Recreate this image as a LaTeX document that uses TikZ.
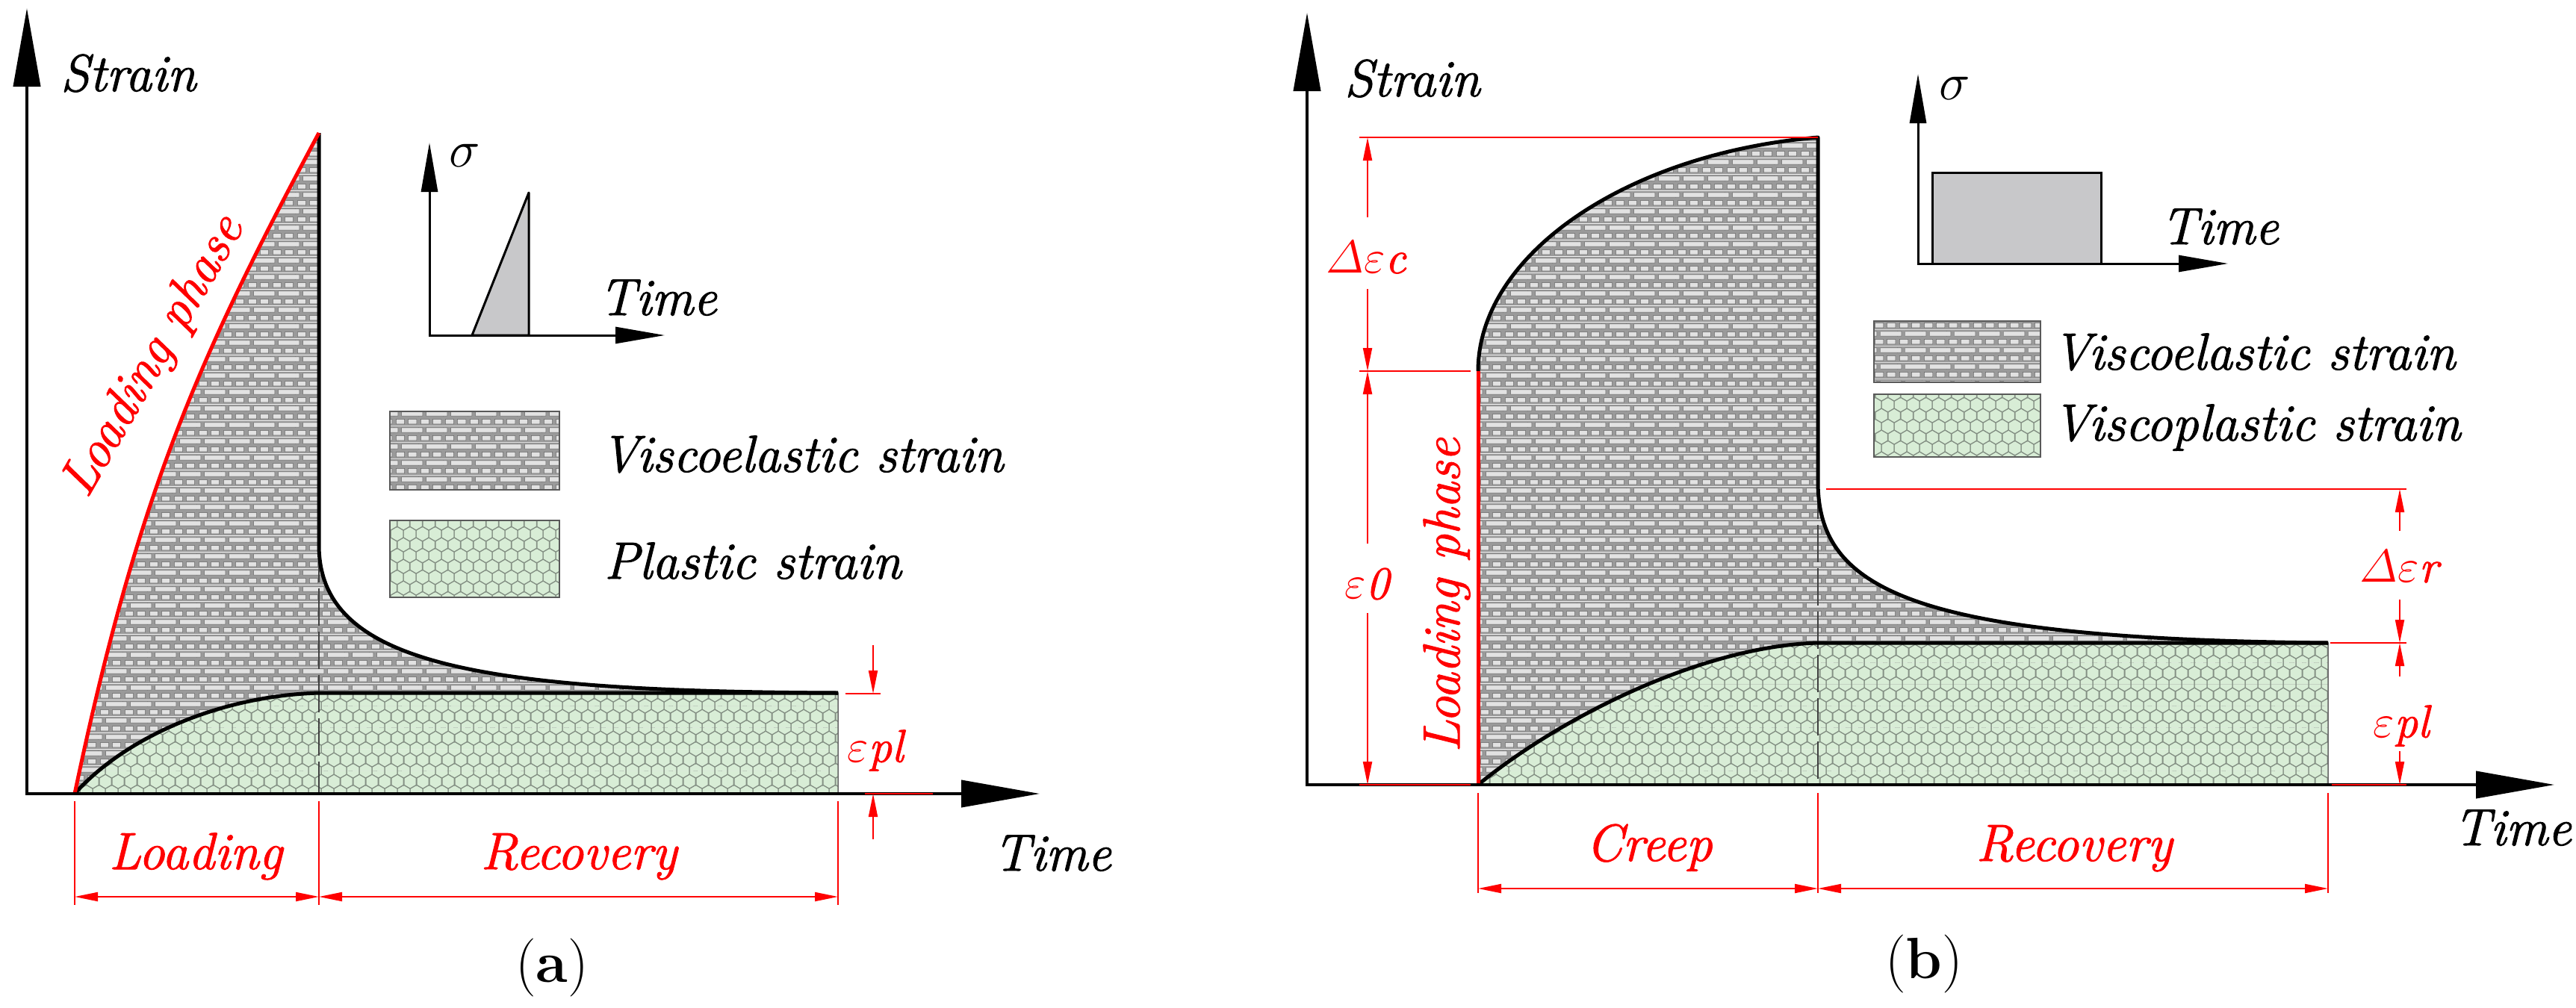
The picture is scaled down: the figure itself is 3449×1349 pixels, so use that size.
\RequirePackage{fix-cm}
\documentclass[tikz,border=0pt]{standalone}
\usepackage{amsmath}
\usepackage{fontspec}
\setmainfont{Latin Modern Roman}[ItalicFeatures={FakeBold=1.5}]
\usetikzlibrary{arrows.meta,patterns.meta}
\definecolor{mortar}{HTML}{9A9A9A}
\definecolor{brick}{HTML}{E2E2E2}
\definecolor{brickedge}{HTML}{646464}
\definecolor{hexbg}{HTML}{D8EDD6}
\definecolor{hexedge}{HTML}{849084}
\definecolor{boxgrey}{HTML}{C8C8CA}
\newcommand\lblfont{\fontsize{70pt}{80pt}\selectfont\itshape}
\newcommand\lpfont{\fontsize{70pt}{80pt}\selectfont\itshape}
\newcommand\epsfont{\fontsize{62pt}{70pt}\selectfont\itshape}
\newcommand\capfont{\fontsize{78pt}{90pt}\selectfont}
\newcommand\eps{\ensuremath{\varepsilon}}
\tikzdeclarepattern{
  name=bricks, type=colored,
  bottom left={(0pt,0pt)}, top right={(33pt,21.6pt)},
  tile size={(33pt,21.6pt)},
  code={
    \fill[mortar] (0pt,0pt) rectangle (33pt,21.6pt);
    \filldraw[fill=brick, draw=brickedge, line width=0.5pt]
      (2.4pt,2.2pt) rectangle (14.1pt,8.6pt)
      (18.9pt,2.2pt) rectangle (30.6pt,8.6pt)
      (10pt,13pt) rectangle (38pt,19.4pt)
      (-23pt,13pt) rectangle (5pt,19.4pt);
  }
}
\tikzdeclarepattern{
  name=honey, type=colored,
  bottom left={(0pt,0pt)}, top right={(16.63pt,28.8pt)},
  tile size={(16.63pt,28.8pt)},
  code={
    \fill[hexbg] (0pt,0pt) rectangle (16.63pt,28.8pt);
    \foreach \cx/\cy in {0/0,16.63/0,8.315/14.4,0/28.8,16.63/28.8}
      \draw[hexedge, line width=1.1pt, shift={(\cx pt,\cy pt)}]
        (90:9.6pt) -- (150:9.6pt) -- (210:9.6pt) -- (270:9.6pt) -- (330:9.6pt) -- (30:9.6pt) -- cycle;
  }
}
\tikzset{
 axis/.style={line width=4pt, -{Triangle[length=105pt,width=36pt]}},
 inaxis/.style={line width=3pt, -{Triangle[length=66pt,width=22pt]}},
 curve/.style={line width=5pt, line join=round},
 loadln/.style={red, line width=5pt},
 dimthin/.style={red, line width=2pt},
 dimarr/.style={dimthin, -{Triangle[length=31pt,width=12pt]}},
 dimboth/.style={dimthin, {Triangle[length=31pt,width=12pt]}-{Triangle[length=31pt,width=12pt]}},
 dashln/.style={black!75, line width=1.5pt, dash pattern=on 50pt off 8pt},
 lbl/.style={font=\lblfont, inner sep=0pt},
 lpl/.style={font=\lpfont, text=red, inner sep=0pt},
 epsl/.style={font=\epsfont, text=red, inner sep=0pt},
 legbox/.style={draw=black!65, line width=1.5pt},
}
\begin{document}
\begin{tikzpicture}[x=1pt,y=-1pt]
\useasboundingbox[fill=white] (0,0) rectangle (3449,1349);
% ================= panel (a) =================
\coordinate (aO) at (36,1063);
\coordinate (aYt) at (36,11);
\coordinate (aXt) at (1392,1063);
\coordinate (aS) at (100,1063);
\coordinate (aTop) at (427,178);
\coordinate (aBend) at (427,730);
\coordinate (aEnd) at (1122,928);
\coordinate (aMid) at (427,928);
\coordinate (aR) at (1122,1063);
\coordinate (aM) at (427,1063);
% fills
\fill[pattern=bricks] (aS) .. controls (184,663) and (266,478) .. (aTop) -- (aBend) .. controls (427,890) and (640,926) .. (aEnd) -- (aR) -- cycle;
\filldraw[pattern=honey, draw=black!60, line width=1.5pt] (aS) .. controls (165,990) and (290,932) .. (aMid) -- (aEnd) -- (aR) -- cycle;
\draw[dashln] (aBend) -- (aM);
\draw[curve] (aTop) -- (aBend) .. controls (427,890) and (640,926) .. (aEnd);
\draw[curve] (aS) .. controls (165,990) and (290,932) .. (aMid) -- (aEnd);
\draw[loadln] (aS) .. controls (184,663) and (266,478) .. (aTop);
\node[lpl, rotate=60] (aLP) at (207,478) {Loading phase};
% axes
\draw[axis] (34,1063) -- (aXt);
\draw[axis] (aO) -- (aYt);
\node[lbl, anchor=base west] (aStrain) at (81,122) {Strain};
% inset
\coordinate (aiO) at (575,449);
\coordinate (aiY) at (575,191);
\coordinate (aiX) at (890,449);
\filldraw[fill=boxgrey, line width=3pt, line join=round] (632,449) -- (708,258) -- (708,449) -- cycle;
\draw[inaxis] (573.5,449) -- (aiX);
\draw[inaxis] (aiO) -- (aiY);
\node[lbl, anchor=center] (aSig) at (622,208) {$\sigma$};
\node[lbl, anchor=base west] (aiTime) at (802,422) {Time};
% legend
\draw[legbox, pattern=bricks] (522,551) rectangle (749,656);
\draw[legbox, pattern=honey] (522,697) rectangle (749,800);
\node[lbl, anchor=base west] (aL1) at (804,632) {Viscoelastic strain};
\node[lbl, anchor=base west] (aL2) at (809,775) {Plastic strain};
% bottom dimensions
\coordinate (ad1) at (100,1201);
\coordinate (ad2) at (427,1201);
\coordinate (ad3) at (1122,1201);
\draw[dimthin] (100,1073) -- (100,1212);
\draw[dimthin] (427,1073) -- (427,1212);
\draw[dimthin] (1122,1073) -- (1122,1212);
\draw[dimboth] (ad1) -- (ad2);
\draw[dimboth] (ad2) -- (ad3);
\node[lbl, text=red, anchor=base] (aLoad) at (262,1164) {Loading};
\node[lbl, text=red, anchor=base] (aRec) at (775,1164) {Recovery};
\node[lbl, anchor=base west] (aTime) at (1330,1166) {Time};
% epsilon pl
\draw[dimthin] (1132,929) -- (1179,929);
\draw[dimthin] (1158,1063) -- (1249,1063);
\draw[dimarr] (1169,864) -- (1169,929);
\draw[dimarr] (1169,1124) -- (1169,1063);
\node[epsl] (aEps) at (1172,1005) {\eps pl};
\node[font=\capfont, inner sep=0pt] (aCap) at (739,1296) {(\textbf{a})};
% ================= panel (b) =================
\coordinate (bO) at (1750,1051);
\coordinate (bYt) at (1750,17);
\coordinate (bXt) at (3420,1051);
\coordinate (bS) at (1979,1051);
\coordinate (bL) at (1979,497);
\coordinate (bTop) at (2434,184);
\coordinate (bBend) at (2434,645);
\coordinate (bEnd) at (3117,861);
\coordinate (bMid) at (2434,861);
\coordinate (bR) at (3117,1051);
\coordinate (bM) at (2434,1051);
\fill[pattern=bricks] (bS) -- (bL) .. controls (1979,340) and (2180,205) .. (bTop) -- (bBend) .. controls (2434,790) and (2560,856) .. (bEnd) -- (bR) -- cycle;
\filldraw[pattern=honey, draw=black!60, line width=1.5pt] (bS) .. controls (2090,960) and (2280,865) .. (bMid) -- (bEnd) -- (bR) -- cycle;
\draw[dashln] (bBend) -- (bM);
\draw[curve] (bL) .. controls (1979,340) and (2180,205) .. (bTop) -- (bBend) .. controls (2434,790) and (2560,856) .. (bEnd);
\draw[curve] (bS) .. controls (2090,960) and (2280,865) .. (bMid) -- (bEnd);
\draw[loadln] (bS) -- (bL);
\node[lpl, rotate=90] (bLP) at (1937,797) {Loading phase};
% axes
\draw[axis] (1748,1051) -- (bXt);
\draw[axis] (bO) -- (bYt);
\node[lbl, anchor=base west] (bStrain) at (1800,129) {Strain};
% inset
\coordinate (biO) at (2568,353);
\coordinate (biY) at (2568,99);
\coordinate (biX) at (2983,353);
\filldraw[fill=boxgrey, line width=3pt] (2587,231) rectangle (2813,353);
\draw[inaxis] (2566.5,353) -- (biX);
\draw[inaxis] (biO) -- (biY);
\node[lbl, anchor=center] (bSig) at (2617,118) {$\sigma$};
\node[lbl, anchor=base west] (biTime) at (2893,327) {Time};
% legend
\draw[legbox, pattern=bricks] (2509,430) rectangle (2732,512);
\draw[legbox, pattern=honey] (2509,528) rectangle (2732,612);
\node[lbl, anchor=base west] (bL1) at (2748,495) {Viscoelastic strain};
\node[lbl, anchor=base west] (bL2) at (2748,590) {Viscoplastic strain};
% left dimensions
\draw[dimthin] (1820,184) -- (bTop);
\draw[dimthin] (1820,497) -- (1969,497);
\draw[dimthin] (1820,1051) -- (1969,1051);
\draw[dimarr] (1831,291) -- (1831,184);
\draw[dimarr] (1831,387) -- (1831,497);
\draw[dimarr] (1831,728) -- (1831,497);
\draw[dimarr] (1831,821) -- (1831,1051);
\node[epsl] (bDc) at (1829,345) {$\varDelta\varepsilon$c};
\node[epsl] (bE0) at (1830,782) {\eps 0};
% right dimensions
\draw[dimthin] (2445,655) -- (3222,655);
\draw[dimthin] (3120,861) -- (3222,861);
\draw[dimthin] (3122,1051) -- (3222,1051);
\draw[dimarr] (3213,711) -- (3213,655);
\draw[dimarr] (3213,803) -- (3213,861);
\draw[dimarr] (3213,906) -- (3213,861);
\draw[dimarr] (3213,1006) -- (3213,1051);
\node[epsl] (bDr) at (3212,759) {$\varDelta\varepsilon$r};
\node[epsl] (bEpl) at (3215,972) {\eps pl};
% bottom dimensions
\coordinate (bd1) at (1979,1190);
\coordinate (bd2) at (2434,1190);
\coordinate (bd3) at (3117,1190);
\draw[dimthin] (1979,1062) -- (1979,1196);
\draw[dimthin] (2434,1062) -- (2434,1196);
\draw[dimthin] (3117,1062) -- (3117,1196);
\draw[dimboth] (bd1) -- (bd2);
\draw[dimboth] (bd2) -- (bd3);
\node[lbl, text=red, anchor=base] (bCreep) at (2208,1153) {Creep};
\node[lbl, text=red, anchor=base] (bRec) at (2777,1153) {Recovery};
\node[lbl, anchor=base west] (bTime) at (3285,1132) {Time};
\node[font=\capfont, inner sep=0pt] (bCap) at (2576,1291) {(\textbf{b})};
\end{tikzpicture}
\end{document}
